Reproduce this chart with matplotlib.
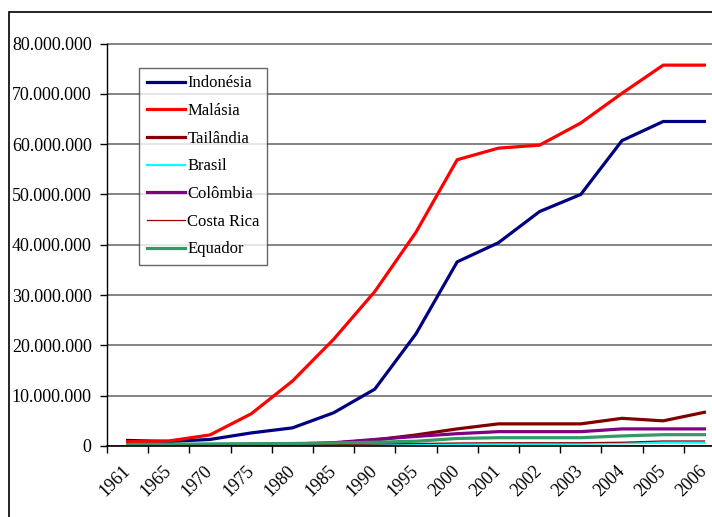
import matplotlib
matplotlib.use('Agg')
import matplotlib.pyplot as plt
from matplotlib.patches import Rectangle
from matplotlib.ticker import FuncFormatter

plt.rcParams['font.family'] = ['Liberation Serif', 'DejaVu Serif']

anos = ['1961', '1965', '1970', '1975', '1980', '1985', '1990', '1995',
        '2000', '2001', '2002', '2003', '2004', '2005', '2006']

# values in millions
indonesia = [1.1, 0.9, 1.3, 2.6, 3.6, 6.6, 11.3, 22.3, 36.6, 40.4, 46.6, 50.0, 60.7, 64.5, 64.5]
malasia = [0.85, 1.0, 2.2, 6.4, 12.9, 21.2, 30.7, 42.5, 56.9, 59.2, 59.8, 64.2, 70.1, 75.7, 75.7]
tailandia = [0.15, 0.2, 0.25, 0.3, 0.35, 0.55, 1.2, 2.2, 3.4, 4.4, 4.4, 4.4, 5.5, 5.0, 6.7]
brasil = [0.05, 0.05, 0.1, 0.1, 0.1, 0.15, 0.2, 0.25, 0.3, 0.35, 0.4, 0.45, 0.55, 0.65, 0.65]
colombia = [0.2, 0.25, 0.3, 0.35, 0.4, 0.65, 1.3, 1.9, 2.45, 2.85, 2.85, 2.85, 3.4, 3.4, 3.4]
costa_rica = [0.1, 0.1, 0.15, 0.2, 0.25, 0.3, 0.4, 0.5, 0.6, 0.65, 0.65, 0.65, 0.75, 1.0, 1.0]
equador = [0.3, 0.35, 0.4, 0.45, 0.5, 0.6, 0.75, 0.95, 1.5, 1.65, 1.65, 1.65, 2.0, 2.25, 2.25]

series = [
    ('Indonésia', indonesia, '#000080', 2.3),
    ('Malásia', malasia, '#FF0000', 2.3),
    ('Tailândia', tailandia, '#800000', 2.3),
    ('Brasil', brasil, '#00FFFF', 1.6),
    ('Colômbia', colombia, '#800080', 2.3),
    ('Costa Rica', costa_rica, '#990000', 0.9),
    ('Equador', equador, '#339966', 2.3),
]

fig = plt.figure(figsize=(7.12, 5.17), dpi=100)
# chart area border (cut off at right and bottom like the original)
fig.patches.append(Rectangle((8.5 / 712, -0.2), 1.2, 1.2 - 12 / 517,
                             transform=fig.transFigure, fill=False,
                             edgecolor='black', linewidth=1.2))

ax = fig.add_axes([107 / 712, 71 / 517, 618 / 712, 402.5 / 517])

x = [i + 0.5 for i in range(len(anos))]
for name, vals, color, lw in series:
    ax.plot(x, [v * 1e6 for v in vals], color=color, linewidth=lw, label=name,
            solid_joinstyle='miter')

ax.set_xlim(0, len(anos))
ax.set_ylim(0, 80e6)
ax.set_yticks([i * 10e6 for i in range(9)])
ax.yaxis.set_major_formatter(FuncFormatter(lambda v, p: f'{int(v):,}'.replace(',', '.')))
ax.set_xticks(range(len(anos) + 1))
ax.set_xticklabels([])
ax.set_xticks(x, minor=True)
ax.set_xticklabels(anos, minor=True, rotation=45, ha='right', va='center',
                   rotation_mode='anchor', fontsize=13)
ax.tick_params(axis='x', which='minor', length=0, pad=16)
ax.tick_params(axis='x', which='major', direction='out', length=5, width=1)
ax.tick_params(axis='y', direction='out', length=5, width=1, labelsize=13, pad=6)

ax.grid(axis='y', color='#707070', linewidth=1.2)
ax.set_axisbelow(True)
for s in ['top', 'right']:
    ax.spines[s].set_visible(False)
ax.spines['left'].set_linewidth(1)
ax.spines['bottom'].set_linewidth(1.2)

leg = ax.legend(loc='upper left', bbox_to_anchor=(32 / 618, 378 / 402.5),
                fontsize=12, frameon=True, fancybox=False, edgecolor='#404040',
                handlelength=2.3, handletextpad=0.15, labelspacing=0.7,
                borderpad=0.45, borderaxespad=0)
leg.get_frame().set_linewidth(1)

fig.savefig('out.png', dpi=100)
